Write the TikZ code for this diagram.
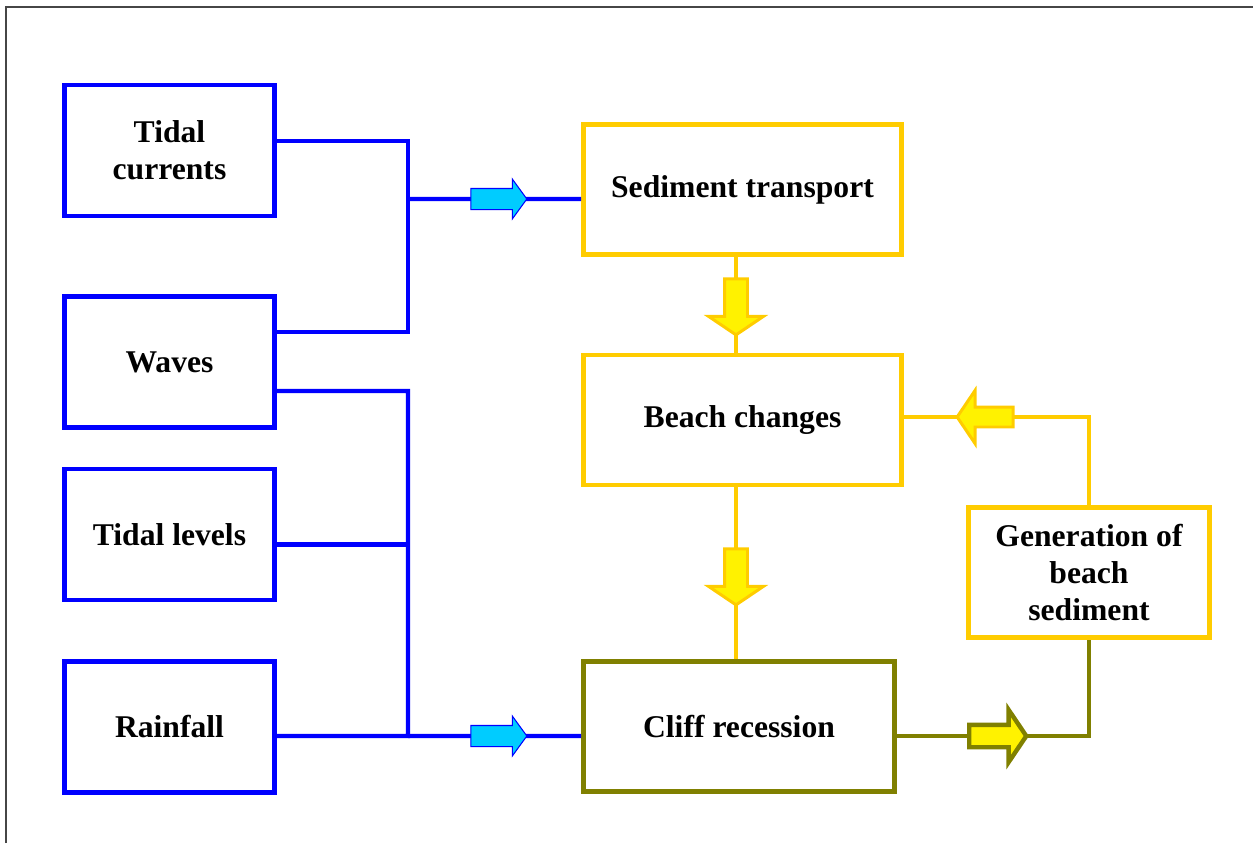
\documentclass[tikz,border=0pt]{standalone}
\usepackage{xcolor}
\usepackage{fontspec}
\setmainfont{Liberation Serif}
\usepackage{tikz}
\usetikzlibrary{shapes,arrows,positioning}

\definecolor{linkblue}{RGB}{0,0,255}
\definecolor{arrowcyan}{RGB}{0,204,255}
\definecolor{gold}{RGB}{255,204,0}
\definecolor{olivegreen}{RGB}{128,128,0}
\definecolor{framegray}{RGB}{70,70,70}

\begin{document}
\begin{tikzpicture}[font=\bfseries\fontsize{18}{21}\selectfont]
        % Setup the styles for the boxes and arrows
        \tikzset{cause style/.style={rectangle, draw=linkblue, line width=2.8pt,
                                     minimum width=4.2cm, minimum height=2.62cm,
                                     align=center},
                 effect style/.style={rectangle, draw=gold, line width=2.8pt,
                                      minimum width=6.36cm, minimum height=2.6cm,
                                      align=center},
                 block arrow/.style={single arrow, inner xsep=0pt,
                                     minimum width=0pt,
                                     single arrow head indent=0pt}}

        \useasboundingbox (0,0) rectangle (25.06,-16.86);
        \draw[framegray, line width=0.8pt] (0.12,-16.86) -- (0.12,-0.14) -- (25.06,-0.14);

        % Draw the boxes
        \node[cause style] at (3.39, -3.01)  (currents) {Tidal\\currents};
        \node[cause style] at (3.39, -7.24)  (waves)    {Waves};
        \node[cause style] at (3.39, -10.69) (levels)   {Tidal levels};
        \node[cause style] at (3.39, -14.54) (rainfall) {Rainfall};

        \node[effect style] at (14.85, -3.79) (transport) {Sediment transport};
        \node[effect style] at (14.85, -8.40) (beach)     {Beach changes};
        \node[effect style, draw=olivegreen, minimum width=6.22cm]
              at (14.78, -14.53) (cliff) {Cliff recession};
        \node[effect style, minimum width=4.82cm]
              at (21.78, -11.45) (generation) {Generation of\\beach\\sediment};

        % Connect the boxes
        \coordinate (upper) at (8.16, -3.98);
        \coordinate (lower) at (8.16, -14.72);
        \coordinate (levelsout) at ([yshift=-0.2cm]levels.east);
        \draw[linkblue, line width=2.3pt]
            ([yshift=0.19cm]currents.east) -| (upper) |- ([yshift=0.6cm]waves.east);
        \draw[linkblue, line width=2.3pt]
            ([yshift=-0.58cm]waves.east) -| (lower) -- ([yshift=-0.18cm]rainfall.east);
        \draw[linkblue, line width=2.3pt] (levelsout) -- (levelsout -| lower);
        \draw[linkblue, line width=2.3pt] (upper) -- ([yshift=-0.19cm]transport.west);
        \draw[linkblue, line width=2.3pt] (lower) -- ([yshift=-0.19cm]cliff.west);

        \draw[gold, line width=2.3pt] ([xshift=-0.13cm]transport.south) -- ([xshift=-0.13cm]beach.north);
        \draw[gold, line width=2.3pt] ([xshift=-0.13cm]beach.south) -- ([xshift=-0.06cm]cliff.north);
        \draw[gold, line width=2.3pt] (generation.north) |- ([yshift=0.06cm]beach.east);
        \draw[olivegreen, line width=2.3pt] ([yshift=-0.19cm]cliff.east) -| (generation.south);

        % Draw the block arrows on the connectors
        \node[block arrow, draw=linkblue, line width=0.6pt, fill=arrowcyan,
              minimum height=1.12cm, inner ysep=0.2cm,
              single arrow head extend=0.19cm, single arrow tip angle=108]
              at (9.9, -3.98) (arrowtop) {};
        \node[block arrow, draw=linkblue, line width=0.6pt, fill=arrowcyan,
              minimum height=1.12cm, inner ysep=0.2cm,
              single arrow head extend=0.19cm, single arrow tip angle=108]
              at (9.9, -14.72) (arrowbottom) {};
        \node[block arrow, draw=gold, line width=1.7pt, fill=yellow, rotate=-90,
              minimum height=1.12cm, inner ysep=0.2cm,
              single arrow head extend=0.32cm, single arrow tip angle=112]
              at (14.72, -6.06) (arrowbeach) {};
        \node[block arrow, draw=gold, line width=1.7pt, fill=yellow, rotate=-90,
              minimum height=1.12cm, inner ysep=0.2cm,
              single arrow head extend=0.32cm, single arrow tip angle=112]
              at (14.72, -11.46) (arrowcliff) {};
        \node[block arrow, draw=gold, line width=1.7pt, fill=yellow, rotate=180,
              minimum height=1.12cm, inner ysep=0.17cm,
              single arrow head extend=0.33cm, single arrow tip angle=112]
              at (19.77, -8.34) (arrowback) {};
        \node[block arrow, draw=olivegreen, line width=2.5pt, fill=yellow,
              minimum height=1.14cm, inner ysep=0.18cm,
              single arrow head extend=0.3cm, single arrow tip angle=112]
              at (19.88, -14.72) (arrowgen) {};
\end{tikzpicture}
\end{document}
